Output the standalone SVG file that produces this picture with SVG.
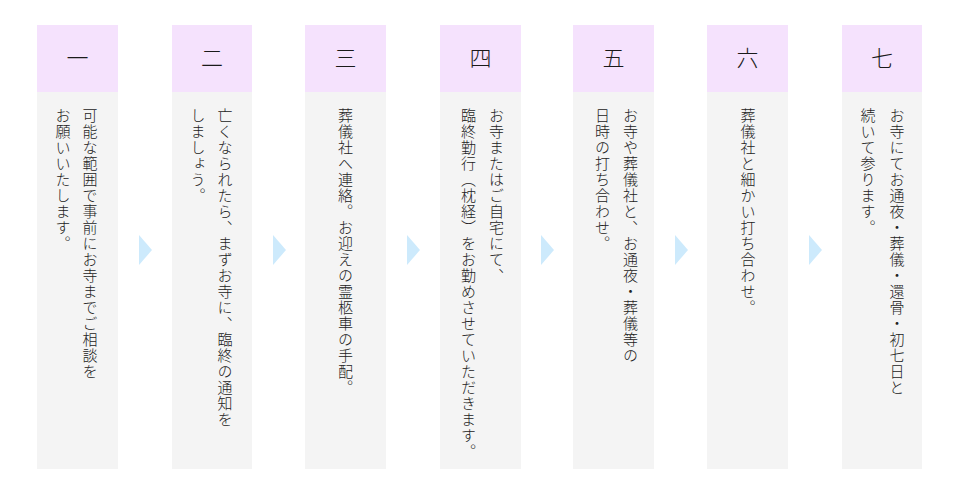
<svg xmlns="http://www.w3.org/2000/svg" width="960" height="500" viewBox="0 0 960 500">
<style>
.hd{fill:#f5e2fd}
.bd{fill:#f4f4f4}
.num{font-family:"Liberation Serif","Noto Sans CJK JP",serif;font-size:22px;fill:#1a1a1a;text-anchor:middle;dominant-baseline:central;font-weight:300}
.tx{font-family:"Noto Sans CJK JP",sans-serif;font-size:15px;letter-spacing:1px;fill:#222;writing-mode:vertical-rl;font-weight:300}
.ar{fill:#cdeafc}
</style>
<rect width="960" height="500" fill="#ffffff"/>
<g id="step1">
<rect class="hd" x="37" y="25" width="81" height="67"/>
<rect class="bd" x="37" y="92" width="81" height="377"/>
<text class="num" x="77.5" y="58">一</text>
<text class="tx" x="90" y="108">可能な範囲で事前にお寺までご相談を</text>
<text class="tx" x="63" y="108">お願いいたします。</text>
</g>
<g id="step2">
<rect class="hd" x="172" y="25" width="80" height="67"/>
<rect class="bd" x="172" y="92" width="80" height="377"/>
<text class="num" x="212" y="58">二</text>
<text class="tx" x="225" y="108">亡くなられたら、まずお寺に、臨終の通知を</text>
<text class="tx" x="198" y="108">しましょう。</text>
</g>
<g id="step3">
<rect class="hd" x="305" y="25" width="81" height="67"/>
<rect class="bd" x="305" y="92" width="81" height="377"/>
<text class="num" x="345.5" y="58">三</text>
<text class="tx" x="345.5" y="108">葬儀社へ連絡。お迎えの霊柩車の手配。</text>
</g>
<g id="step4">
<rect class="hd" x="440" y="25" width="81" height="67"/>
<rect class="bd" x="440" y="92" width="81" height="377"/>
<text class="num" x="480.5" y="58">四</text>
<text class="tx" x="496.5" y="108">お寺またはご自宅にて、</text>
<text class="tx" x="468.5" y="108">臨終勤行（枕経）をお勤めさせていただきます。</text>
</g>
<g id="step5">
<rect class="hd" x="573" y="25" width="81" height="67"/>
<rect class="bd" x="573" y="92" width="81" height="377"/>
<text class="num" x="613.5" y="58">五</text>
<text class="tx" x="630.5" y="108">お寺や葬儀社と、お通夜・葬儀等の</text>
<text class="tx" x="602.5" y="108">日時の打ち合わせ。</text>
</g>
<g id="step6">
<rect class="hd" x="707" y="25" width="81" height="67"/>
<rect class="bd" x="707" y="92" width="81" height="377"/>
<text class="num" x="747.5" y="58">六</text>
<text class="tx" x="748" y="108">葬儀社と細かい打ち合わせ。</text>
</g>
<g id="step7">
<rect class="hd" x="842" y="25" width="80" height="67"/>
<rect class="bd" x="842" y="92" width="80" height="377"/>
<text class="num" x="882" y="58">七</text>
<text class="tx" x="897" y="108">お寺にてお通夜・葬儀・還骨・初七日と</text>
<text class="tx" x="868" y="108">続いて参ります。</text>
</g>
<g id="connectors">
<polygon class="ar" points="139,235 152,250 139,265"/>
<polygon class="ar" points="273,235 286,250 273,265"/>
<polygon class="ar" points="407,235 420,250 407,265"/>
<polygon class="ar" points="541,235 554,250 541,265"/>
<polygon class="ar" points="675,235 688,250 675,265"/>
<polygon class="ar" points="809,235 822,250 809,265"/>
</g>
</svg>
